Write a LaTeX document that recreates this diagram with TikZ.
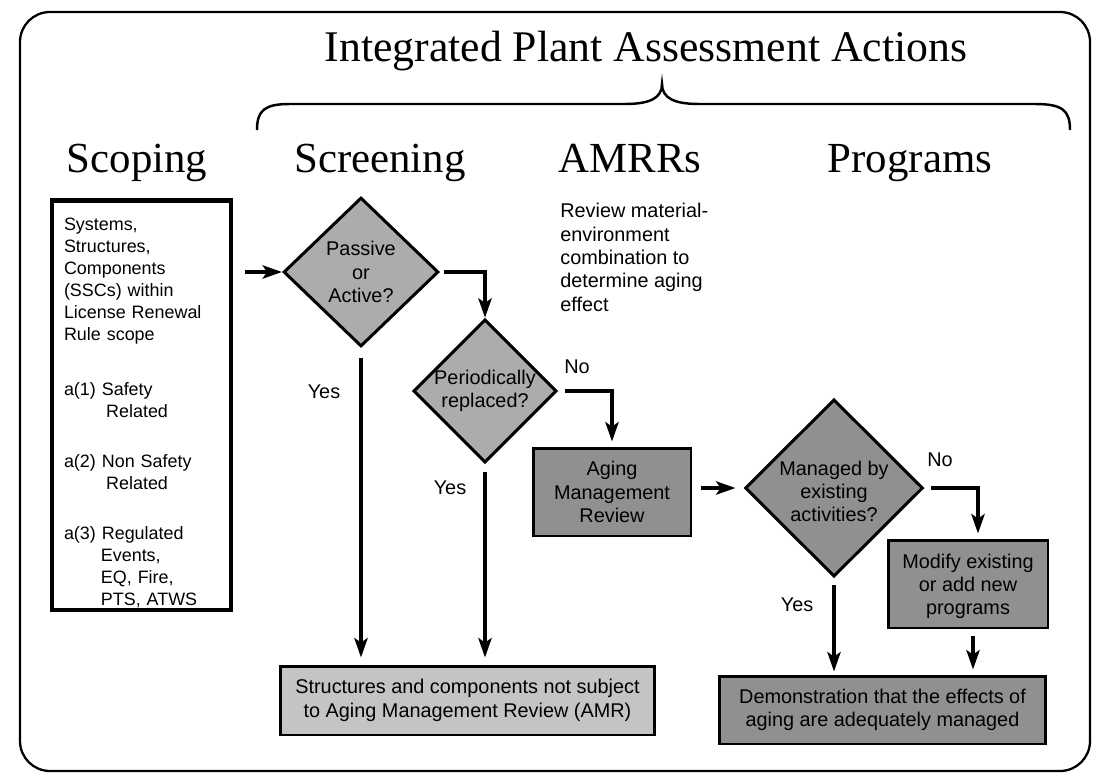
\documentclass[tikz,border=0pt]{standalone}
\usepackage{fontspec}
\usetikzlibrary{shapes.geometric,arrows.meta,calc}
\newfontfamily\bodyfont{Liberation Sans}
\newfontfamily\headfont{Liberation Serif}
\definecolor{shadeA}{HTML}{ACACAC}
\definecolor{shadeB}{HTML}{909090}
\definecolor{shadeC}{HTML}{C4C4C4}

\begin{document}
\begin{tikzpicture}[x=0.02cm,y=-0.02cm,
  txt/.style={font=\bodyfont\fontsize{11.3pt}{13.3pt}\selectfont},
  heading/.style={font=\headfont\fontsize{24.4pt}{28pt}\selectfont, anchor=base, inner sep=0pt},
  decision/.style={diamond, draw, line width=1.7pt, inner sep=0pt, align=center, txt},
  stepbox/.style={rectangle, draw, line width=1.7pt, inner sep=0pt, align=center, txt},
  flow/.style={line width=2.3pt, -{Stealth[length=11pt,width=7.5pt,inset=2.5pt]}},
  lbl/.style={txt, inner sep=0pt},
]
\useasboundingbox (0,0) rectangle (1104,777);
\fill[white] (0,0) rectangle (1104,777);

% outer frame
\draw[line width=1.3pt, rounded corners=0.6cm] (20,12) rectangle (1090,771);

% title and the brace over the three assessment columns
\node[heading, font=\headfont\fontsize{24.9pt}{28pt}\selectfont] (title) at (646,62) {Integrated Plant Assessment Actions};
\draw[line width=1.4pt] (257,130) .. controls (257,110) and (265,104) .. (290,104) -- (625,104)
  .. controls (650,104) and (662,98) .. (662,84)
  .. controls (662,98) and (674,104) .. (699,104) -- (1035,104)
  .. controls (1062,104) and (1070,110) .. (1070,130);

% column headings
\node[heading] (hscoping) at (137,172) {Scoping};
\node[heading] (hscreening) at (380,172) {Screening};
\node[heading] (hamrrs) at (630,172) {AMRRs};
\node[heading] (hprograms) at (910,172) {Programs};

% scoping box
\node[draw, line width=2.8pt, fill=white, minimum width=3.58cm, minimum height=8.2cm,
      text width=3.1cm, inner xsep=0.24cm, inner ysep=0pt, align=left,
      font=\bodyfont\fontsize{10.2pt}{12.5pt}\selectfont] (scoping) at (141.5,405)
  {\rule{0pt}{16pt}Systems,\\Structures,\\Components\\(SSCs) within\\License Renewal\\Rule scope\\[19pt]
   a(1) Safety\\\hspace*{24pt}Related\\[16pt]
   a(2) Non Safety\\\hspace*{24pt}Related\\[16pt]
   a(3) Regulated\\\hspace*{21pt}Events,\\\hspace*{21pt}EQ, Fire,\\\hspace*{21pt}PTS, ATWS};

% decisions and steps
\node[decision, fill=shadeA, minimum width=3.1cm, minimum height=2.98cm] (passive) at (361,272) {Passive\\or\\Active?};
\node[decision, fill=shadeA, minimum width=2.8cm, minimum height=2.8cm] (periodic) at (485,391) {Periodically\\replaced?};
\node[stepbox, fill=shadeB, minimum width=3.16cm, minimum height=1.76cm] (amr) at (612,492) {Aging\\Management\\Review};
\node[decision, fill=shadeB, minimum width=3.56cm, minimum height=3.36cm] (managed) at (834,488) {\rule{0pt}{12pt}Managed by\\existing\\activities?};
\node[stepbox, fill=shadeB, minimum width=3.2cm, minimum height=1.76cm] (modify) at (968,584) {\rule{0pt}{11pt}Modify existing\\or add new\\programs};
\node[stepbox, fill=shadeC, minimum width=7.5cm, minimum height=1.38cm] (notsub) at (467.5,700.5) {Structures and components not subject\\to Aging Management Review (AMR)};
\node[stepbox, fill=shadeB, minimum width=6.54cm, minimum height=1.36cm] (demo) at (882.5,710) {Demonstration that the effects of\\aging are adequately managed};

\node[lbl, anchor=north west, align=left] (review) at (560,203) {Review material-\\environment\\combination to\\determine aging\\effect};

% connectors
\draw[flow] ([xshift=0.24cm]scoping.east |- passive.west) -- (passive.west);
\draw[flow] ([xshift=0.08cm]passive.east) -| (periodic.north);
\draw[flow] ([yshift=-0.2cm]passive.south) -- ($(passive.south |- notsub.north)+(0,-7)$);
\draw[flow] ([yshift=-0.16cm]periodic.south) -- ($(periodic.south |- notsub.north)+(0,-7)$);
\draw[flow] ([xshift=0.14cm]periodic.east) -| ([yshift=0.1cm]amr.north);
\draw[flow] ([xshift=0.18cm]amr.east |- managed.west) -- ([xshift=-0.16cm]managed.west);
\draw[flow] ([xshift=0.14cm]managed.east) -| ([xshift=0.2cm,yshift=0.1cm]modify.north);
\draw[flow] ([yshift=-0.14cm]managed.south) -- ($(managed.south |- demo.north)+(0,-3)$);
\coordinate (modfoot) at ([xshift=0.1cm,yshift=-0.14cm]modify.south);
\draw[flow] (modfoot) -- ($(modfoot |- demo.north)+(0,-5)$);

% branch labels
\node[lbl] (yes1) at (324,392) {Yes};
\node[lbl] (yes2) at (450,488) {Yes};
\node[lbl] (no1) at (577,367) {No};
\node[lbl] (yes3) at (797,605) {Yes};
\node[lbl] (no2) at (940,460) {No};
\end{tikzpicture}
\end{document}
